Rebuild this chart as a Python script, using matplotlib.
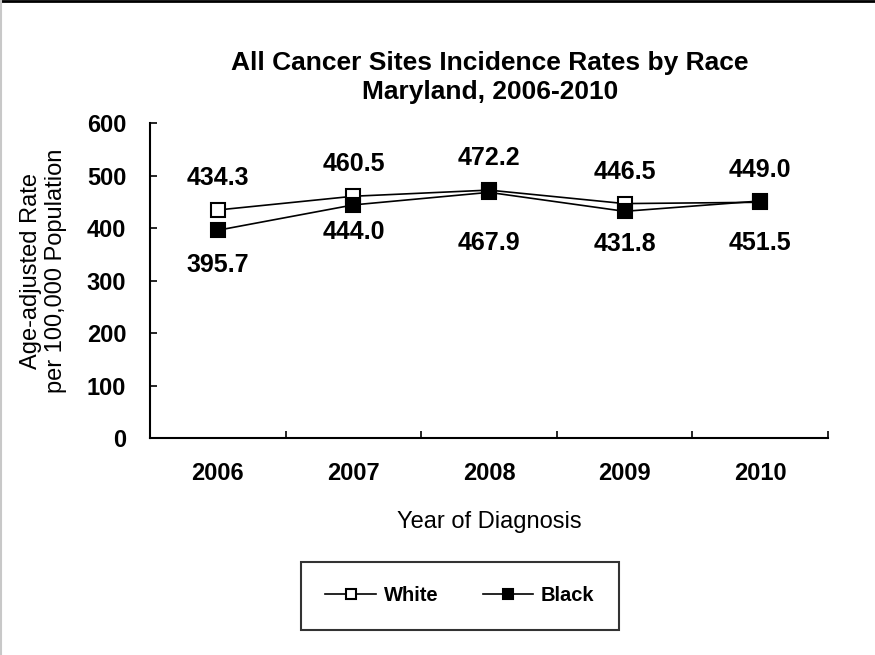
import matplotlib
matplotlib.use("Agg")
import matplotlib.pyplot as plt
from matplotlib.lines import Line2D

plt.rcParams['font.family'] = ['Liberation Sans', 'DejaVu Sans']

years = ['2006', '2007', '2008', '2009', '2010']
white = [434.3, 460.5, 472.2, 446.5, 449.0]
black = [395.7, 444.0, 467.9, 431.8, 451.5]
y_ticks = [0, 100, 200, 300, 400, 500, 600]

# label offsets in pixels (below the black markers)
black_offsets = [-35, -27, -51, -33, -42]

fig = plt.figure(figsize=(8.75, 6.55), dpi=100)
ax = fig.add_axes([0.1714, 0.3313, 0.7749, 0.4809])

x = range(len(years))
ax.plot(x, white, color='black', lw=1.2, marker='s', ms=10.5,
        mfc='white', mec='black', mew=1.5, label='White', zorder=3)
ax.plot(x, black, color='black', lw=1.2, marker='s', ms=10.5,
        mfc='black', mec='black', mew=1.5, label='Black', zorder=3)

for i in x:
    ax.annotate(f'{white[i]:.1f}', (i, white[i]), xytext=(0, 32 * 0.72),
                textcoords='offset points', ha='center', va='center',
                fontsize=18, fontweight='bold')
    ax.annotate(f'{black[i]:.1f}', (i, black[i]),
                xytext=(0, black_offsets[i] * 0.72),
                textcoords='offset points', ha='center', va='center',
                fontsize=18, fontweight='bold')

ax.set_xlim(-0.5, len(years) - 0.5)
ax.set_ylim(0, 600)
ax.set_yticks(y_ticks)
ax.set_yticklabels([str(v) for v in y_ticks], fontsize=17, fontweight='bold')
ax.set_xticks(list(x))
ax.set_xticklabels(years, fontsize=17, fontweight='bold')
ax.set_xticks([i - 0.5 for i in range(len(years) + 1)], minor=True)
ax.tick_params(axis='x', which='major', length=0, pad=17)
ax.tick_params(axis='x', which='minor', direction='in', length=5, width=1.2)
ax.tick_params(axis='y', direction='in', length=5, width=1.2, pad=17)

for side in ['top', 'right']:
    ax.spines[side].set_visible(False)
for side in ['left', 'bottom']:
    ax.spines[side].set_linewidth(1.5)

ax.set_xlabel('Year of Diagnosis', fontsize=17)
ax.xaxis.set_label_coords(0.5, -0.232)
ax.set_ylabel('Age-adjusted Rate\nper 100,000 Population', fontsize=17,
              linespacing=1.2)
ax.yaxis.set_label_coords(-0.122, 0.53)

fig.text(0.56, 0.8817, 'All Cancer Sites Incidence Rates by Race\nMaryland, 2006-2010',
         ha='center', va='center', fontsize=19, fontweight='bold',
         linespacing=1.3)

leg = fig.legend(loc='center', bbox_to_anchor=(0.5257, 0.0901),
                 ncol=2, frameon=True, fancybox=False, edgecolor='black',
                 prop={'weight': 'bold', 'size': 14.5},
                 handlelength=2.5, handletextpad=0.4, markerscale=0.7,
                 columnspacing=2.2, borderpad=1.2)
leg.get_frame().set_linewidth(1.5)

# page frame lines
fig.add_artist(Line2D([0, 1], [0.998, 0.998], color='black', lw=2,
                      transform=fig.transFigure))
fig.add_artist(Line2D([0.001, 0.001], [0, 1], color='#c8c8c8', lw=1.5,
                      transform=fig.transFigure))

fig.savefig('out.png', dpi=100)
